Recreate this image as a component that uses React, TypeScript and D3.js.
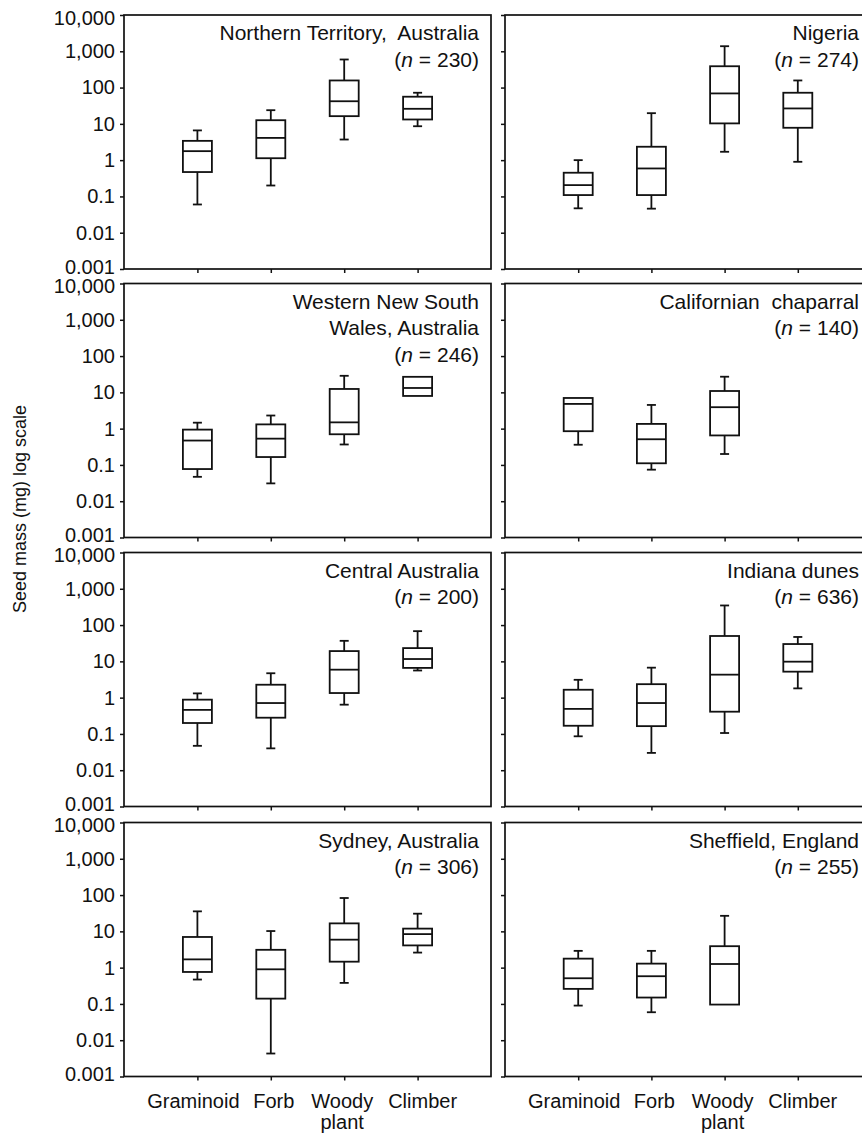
import React, { useRef, useEffect } from 'react';
import * as d3 from 'd3';

// plant growth forms along x
const categories = ["Graminoid", "Forb", "Woody plant", "Climber"];
const tickValues = [0.001, 0.01, 0.1, 1, 10, 100, 1000, 10000];
const tickLabels = ["0.001", "0.01", "0.1", "1", "10", "100", "1,000", "10,000"];

// each box: [whisker low, lower quartile, median, upper quartile, whisker high]
const northernTerritory = [[0.06, 0.47, 1.77, 3.4, 6.6], [0.2, 1.13, 4.1, 12.6, 23.8], [3.7, 16.3, 42, 157, 594], [8.6, 13.2, 26, 56, 72]];
const nigeria = [[0.047, 0.109, 0.205, 0.45, 1.0], [0.046, 0.109, 0.59, 2.34, 19.7], [1.7, 10.3, 69, 387, 1380], [0.9, 7.8, 26.6, 72, 157]];
const westernNSW = [[0.047, 0.077, 0.47, 0.94, 1.46], [0.031, 0.165, 0.53, 1.31, 2.3], [0.366, 0.7, 1.49, 12.4, 28.6], [7.96, 7.96, 13.2, 26.8, 26.8]];
const californian = [[0.36, 0.85, 4.8, 7.0, 7.0], [0.074, 0.111, 0.51, 1.35, 4.5], [0.2, 0.65, 3.9, 10.9, 27], null];
const centralAustralia = [[0.047, 0.2, 0.46, 0.88, 1.31], [0.04, 0.28, 0.71, 2.27, 4.7], [0.64, 1.34, 5.9, 19.2, 36.8], [5.6, 6.6, 11.6, 23.2, 68]];
const indianaDunes = [[0.086, 0.168, 0.49, 1.65, 3.1], [0.03, 0.164, 0.71, 2.35, 6.7], [0.106, 0.41, 4.3, 50, 347], [1.8, 5.2, 9.8, 30, 47]];
const sydney = [[0.47, 0.76, 1.69, 7.0, 35.6], [0.0043, 0.14, 0.9, 3.1, 10.2], [0.38, 1.46, 5.9, 16.6, 83], [2.6, 4.1, 8.4, 11.9, 30.7]];
const sheffield = [[0.09, 0.26, 0.51, 1.77, 2.9], [0.059, 0.15, 0.58, 1.29, 2.9], [0.096, 0.096, 1.26, 3.9, 26.8], null];

const panelData = [northernTerritory, nigeria, westernNSW, californian, centralAustralia, indianaDunes, sydney, sheffield];
const panelTitles = [
    ["Northern Territory,  Australia"],
    ["Nigeria"],
    ["Western New South", "Wales, Australia"],
    ["Californian  chaparral"],
    ["Central Australia"],
    ["Indiana dunes"],
    ["Sydney, Australia"],
    ["Sheffield, England"]
];
const panelN = ["230", "274", "246", "140", "200", "636", "306", "255"];

const FONT = '"Liberation Sans", Arial, Helvetica, sans-serif';

const App = () => {
    const svgRef = useRef(null);

    useEffect(() => {
        if (!svgRef.current) return;
        const svg = d3.select(svgRef.current);
        svg.selectAll("*").remove();

        const colX = [[124, 491], [505, 871]];
        const rowTop = [15, 283.5, 552.5, 822.5];
        const panelH = 254;
        const boxW = 29;
        const capW = 9;
        // small horizontal nudges so the category labels don't run together
        const labelShift = [-4, 3, -2, 5];

        panelData.forEach((data, i) => {
            const col = i % 2;
            const row = Math.floor(i / 2);
            const [x0, x1] = colX[col];
            const top = rowTop[row];
            const bottom = top + panelH;

            const x = d3.scalePoint().domain(categories).range([x0, x1]).padding(1);
            const y = d3.scaleLog().domain([0.001, 10000]).range([bottom, top]);

            const g = svg.append("g");

            // frame
            g.append("rect")
                .attr("x", x0).attr("y", top)
                .attr("width", x1 - x0).attr("height", panelH)
                .attr("fill", "none").attr("stroke", "#111").attr("stroke-width", 1.7);

            const yAxis = g.append("g")
                .attr("transform", `translate(${x0},0)`)
                .call(d3.axisLeft(y).tickValues(tickValues).tickSize(4).tickPadding(5)
                    .tickFormat((d, k) => col === 0 ? tickLabels[k] : ""));
            yAxis.select(".domain").remove();
            yAxis.selectAll("line").attr("stroke", "#111").attr("stroke-width", 1.5);
            yAxis.selectAll("text")
                .attr("fill", "#111")
                .style("font-family", FONT)
                .style("font-size", "20px")
                // ends of the axis are nudged apart so stacked panels don't collide
                .attr("dy", d => d === 0.001 ? "0.2em" : d === 10000 ? "0.47em" : "0.32em");

            const xAxis = g.append("g")
                .attr("transform", `translate(0,${bottom})`)
                .call(d3.axisBottom(x).tickSize(4).tickFormat(() => ""));
            xAxis.select(".domain").remove();
            xAxis.selectAll("line").attr("stroke", "#111").attr("stroke-width", 1.5);

            // boxes
            data.forEach((b, k) => {
                if (!b) return;
                const cx = x(categories[k]);
                const [lo, q1, med, q3, hi] = b;
                const bg = g.append("g")
                    .attr("stroke", "#111").attr("stroke-width", 1.8).attr("fill", "none");
                if (hi > q3) {
                    bg.append("line").attr("x1", cx).attr("x2", cx).attr("y1", y(q3)).attr("y2", y(hi));
                    bg.append("line").attr("x1", cx - capW / 2).attr("x2", cx + capW / 2).attr("y1", y(hi)).attr("y2", y(hi));
                }
                if (lo < q1) {
                    bg.append("line").attr("x1", cx).attr("x2", cx).attr("y1", y(q1)).attr("y2", y(lo));
                    bg.append("line").attr("x1", cx - capW / 2).attr("x2", cx + capW / 2).attr("y1", y(lo)).attr("y2", y(lo));
                }
                bg.append("rect")
                    .attr("x", cx - boxW / 2).attr("y", y(q3))
                    .attr("width", boxW).attr("height", y(q1) - y(q3))
                    .attr("fill", "white");
                bg.append("line")
                    .attr("x1", cx - boxW / 2).attr("x2", cx + boxW / 2)
                    .attr("y1", y(med)).attr("y2", y(med));
            });

            // title, right aligned
            const lines = panelTitles[i];
            const tx = x1 - 12;
            lines.forEach((line, k) => {
                g.append("text")
                    .attr("x", tx).attr("y", top + 25 + k * 26.7)
                    .attr("text-anchor", "end")
                    .style("font-family", FONT).style("font-size", "21px")
                    .attr("fill", "#111")
                    .style("white-space", "pre")
                    .text(line);
            });
            const nText = g.append("text")
                .attr("x", tx).attr("y", top + 25 + lines.length * 26.7)
                .attr("text-anchor", "end")
                .style("font-family", FONT).style("font-size", "21px")
                .attr("fill", "#111");
            nText.append("tspan").text("(");
            nText.append("tspan").style("font-style", "italic").text("n");
            nText.append("tspan").text(` = ${panelN[i]})`);

            // category labels under bottom row
            if (row === 3) {
                categories.forEach((c, ci) => {
                    const words = c.split(" ");
                    words.forEach((w, k) => {
                        g.append("text")
                            .attr("x", x(c) + labelShift[ci]).attr("y", bottom + 31 + k * 21)
                            .attr("text-anchor", "middle")
                            .style("font-family", FONT).style("font-size", "20px")
                            .attr("fill", "#111")
                            .text(w);
                    });
                });
            }
        });

        svg.append("text")
            .attr("transform", "translate(26,509) rotate(-90)")
            .attr("text-anchor", "middle")
            .style("font-family", FONT).style("font-size", "18px")
            .attr("fill", "#111")
            .text("Seed mass (mg) log scale");
    }, []);

    return (
        <div style={{ position: "absolute", left: 0, top: 0, background: "white" }}>
            <svg ref={svgRef} width={862} height={1137} style={{ display: "block" }}></svg>
        </div>
    );
};

export default App;
